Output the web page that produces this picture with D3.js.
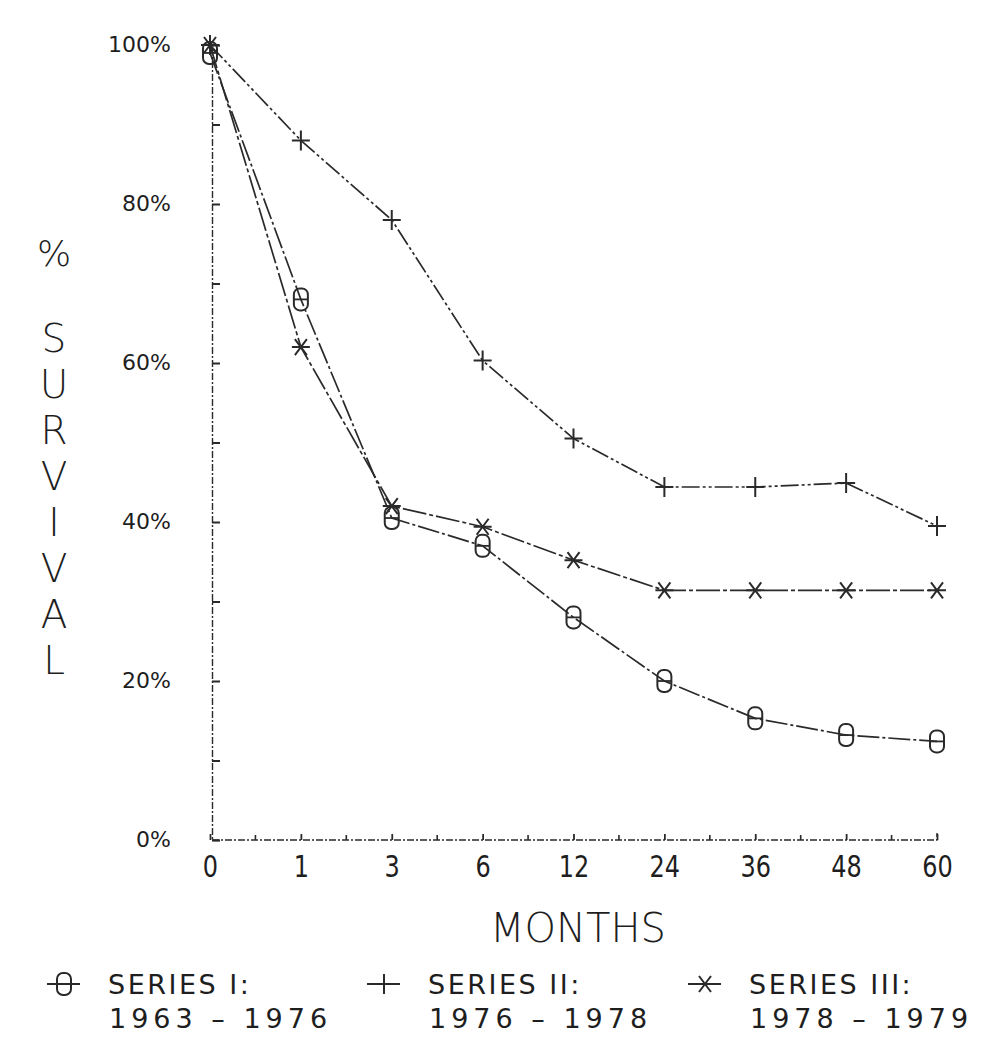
<!DOCTYPE html>
<html>
<head>
<meta charset="utf-8">
<script src="https://cdn.jsdelivr.net/npm/d3@7"></script>
<style>
  body { margin: 0; background: #fff; }
  text { fill: #1e1e1e; font-family: "DejaVu Sans", sans-serif; }
</style>
</head>
<body>
<div id="chart"></div>
<script>
// months after treatment (plotted at even spacing)
var months = ["0", "1", "3", "6", "12", "24", "36", "48", "60"];
var yTicks = [0, 20, 40, 60, 80, 100];
var yMinor = [10, 30, 50, 70, 90];

// % survival
var series1 = [99, 68, 40.5, 37, 28, 20, 15.3, 13.2, 12.4];
var series2 = [100, 88, 78, 60.3, 50.5, 44.4, 44.4, 44.9, 39.5];
var series3 = [100, 62, 42, 39.4, 35.2, 31.4, 31.4, 31.4, 31.4];

var seriesNames = ["SERIES I:", "SERIES II:", "SERIES III:"];
var seriesYears = ["1963 \u2013 1976", "1976 \u2013 1978", "1978 \u2013 1979"];
var seriesMarks = ["o", "plus", "star"];

var W = 1001, H = 1050;
var svg = d3.select('#chart').append('svg')
            .attr('width', W)
            .attr('height', H);

var x = d3.scalePoint().domain(months).range([210, 937]);
var y = d3.scaleLinear().domain([0, 100]).range([840, 45]);
var ink = '#2a2a2a';
var axisX = 212;

// y axis
var yAxis = d3.axisLeft(y).tickValues(yTicks).tickSize(-8)
              .tickFormat(function(d) { return d + '%'; });
var gy = svg.append('g').attr('transform', 'translate(' + axisX + ',0)').call(yAxis);
gy.select('.domain').attr('stroke', ink).attr('stroke-width', 1.4).attr('stroke-dasharray', '7,2,2,2');
gy.selectAll('.tick line').attr('stroke', ink).attr('stroke-width', 2);
gy.selectAll('.tick text').attr('font-size', 22).attr('fill', '#1e1e1e')
  .attr('font-family', '"DejaVu Sans Condensed", "DejaVu Sans", sans-serif')
  .attr('x', -41).attr('dy', 0).attr('y', 0)
  .attr('text-anchor', 'end').attr('dominant-baseline', 'middle');
var gym = svg.append('g').attr('transform', 'translate(' + axisX + ',0)')
             .call(d3.axisLeft(y).tickValues(yMinor).tickSize(-8).tickFormat(''));
gym.select('.domain').remove();
gym.selectAll('.tick line').attr('stroke', ink).attr('stroke-width', 2);

// x axis
var xAxis = d3.axisBottom(x).tickSize(-6);
var gx = svg.append('g').attr('transform', 'translate(0,' + y(0) + ')').call(xAxis);
gx.select('.domain').attr('d', 'M' + axisX + ',0H' + x('60') + 'V-7')
  .attr('stroke', ink).attr('stroke-width', 1.4).attr('stroke-dasharray', '7,2,2,2');
gx.selectAll('.tick line').attr('stroke', ink).attr('stroke-width', 1.8);
gx.selectAll('.tick text').attr('font-size', 24).attr('fill', '#1e1e1e')
  .attr('font-family', '"DejaVu Sans Condensed", "DejaVu Sans", sans-serif')
  .attr('transform', 'scale(1,1.25)').attr('y', 30).attr('dy', 0);
var mids = months.slice(1).map(function(m, i) { return (x(months[i]) + x(m)) / 2; });
gx.selectAll('.minor').data(mids).enter().append('line')
  .attr('x1', function(d) { return d; }).attr('x2', function(d) { return d; })
  .attr('y1', 0).attr('y2', -5).attr('stroke', ink).attr('stroke-width', 1.6);

// axis titles
svg.append('text').attr('x', 578).attr('y', 942).attr('text-anchor', 'middle')
   .attr('font-size', 40).attr('font-weight', 200).text('MONTHS');
svg.append('text').attr('x', 54).attr('y', 266).attr('text-anchor', 'middle')
   .attr('font-size', 36).attr('font-weight', 200).text('%');
'SURVIVAL'.split('').forEach(function(c, i) {
  svg.append('text').attr('x', 54).attr('y', 352 + i * 46).attr('text-anchor', 'middle')
     .attr('font-size', 39).attr('font-weight', 200).text(c);
});

// markers
function drawMark(g, kind, cx, cy) {
  if (kind == 'o') {
    g.append('rect').attr('x', cx - 7).attr('y', cy - 11).attr('width', 14).attr('height', 22)
     .attr('rx', 6).attr('fill', 'none').attr('stroke', ink).attr('stroke-width', 2);
    g.append('line').attr('x1', cx - 7).attr('x2', cx + 7).attr('y1', cy).attr('y2', cy)
     .attr('stroke', ink).attr('stroke-width', 1.8);
  } else if (kind == 'plus') {
    g.append('path').attr('d', 'M' + (cx - 9) + ',' + cy + 'H' + (cx + 9) + 'M' + cx + ',' + (cy - 10) + 'V' + (cy + 10))
     .attr('stroke', ink).attr('stroke-width', 2).attr('fill', 'none');
  } else {
    var r = 8;
    g.append('path').attr('d', 'M' + (cx - 9) + ',' + cy + 'H' + (cx + 9) +
                               'M' + (cx - 6) + ',' + (cy - r) + 'L' + (cx + 6) + ',' + (cy + r) +
                               'M' + (cx + 6) + ',' + (cy - r) + 'L' + (cx - 6) + ',' + (cy + r))
     .attr('stroke', ink).attr('stroke-width', 2).attr('fill', 'none');
  }
}

var allSeries = [series1, series2, series3];
var dashes = ['22,3,3,3', '18,3,3,3,3,3', '24,3,4,3'];
var line = d3.line()
             .x(function(d, i) { return x(months[i]); })
             .y(function(d) { return y(d); });

allSeries.forEach(function(s, k) {
  svg.append('path').datum(s).attr('d', line).attr('fill', 'none')
     .attr('stroke', ink).attr('stroke-width', 1.7).attr('stroke-dasharray', dashes[k]);
  var g = svg.append('g');
  s.forEach(function(v, i) { drawMark(g, seriesMarks[k], x(months[i]), y(v)); });
});

// legend
var legX = [47, 367, 688];
seriesNames.forEach(function(name, k) {
  var g = svg.append('g');
  var ly = 984;
  g.append('line').attr('x1', legX[k]).attr('x2', legX[k] + 33).attr('y1', ly).attr('y2', ly)
   .attr('stroke', ink).attr('stroke-width', 1.8);
  drawMark(g, seriesMarks[k], legX[k] + 17, ly);
  g.append('text').attr('x', legX[k] + 61).attr('y', 994).attr('font-size', 27)
   .attr('letter-spacing', 2.5).text(name);
  g.append('text').attr('x', legX[k] + 62).attr('y', 1028).attr('font-size', 27)
   .attr('letter-spacing', 5).text(seriesYears[k]);
});
</script>
</body>
</html>
